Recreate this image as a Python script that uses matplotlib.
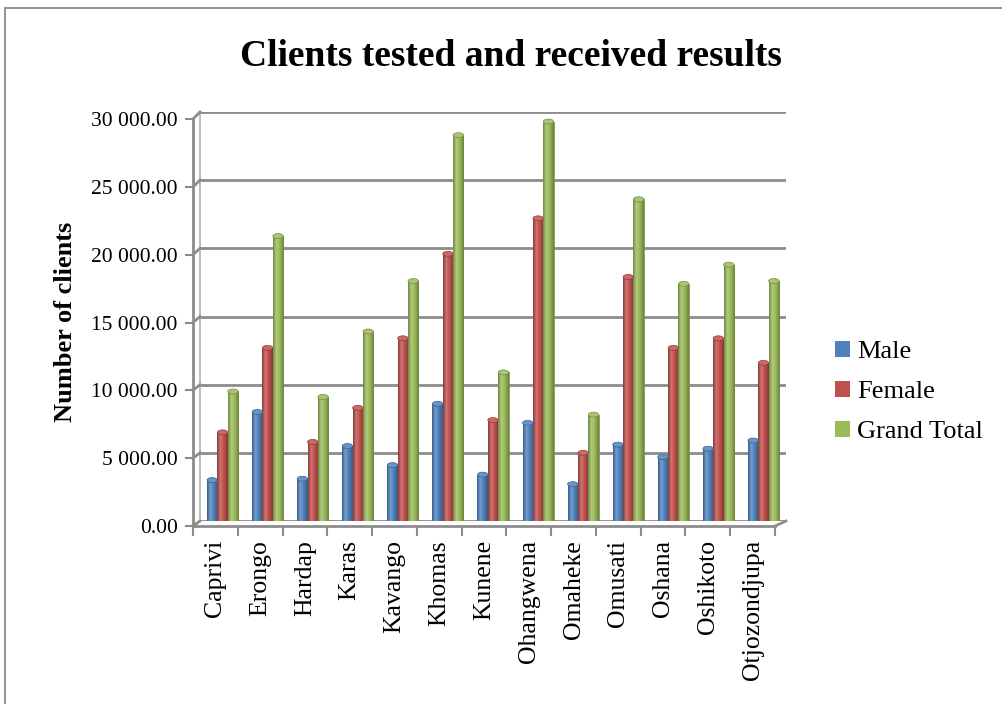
import numpy as np
import matplotlib
matplotlib.use("Agg")
import matplotlib.pyplot as plt
from matplotlib.colors import LinearSegmentedColormap, to_rgb
from matplotlib.patches import Ellipse, Rectangle
from matplotlib.lines import Line2D
from matplotlib.ticker import FuncFormatter, MultipleLocator, FixedLocator

regions = ["Caprivi", "Erongo", "Hardap", "Karas", "Kavango", "Khomas", "Kunene",
           "Ohangwena", "Omaheke", "Omusati", "Oshana", "Oshikoto", "Otjozondjupa"]
male = [3000, 8000, 3100, 5500, 4100, 8600, 3400, 7200, 2700, 5600, 4700, 5300, 5900]
female = [6500, 12700, 5800, 8300, 13400, 19600, 7400, 22200, 5000, 17900, 12700, 13400, 11600]
grand_total = [9500, 20900, 9100, 13900, 17600, 28300, 10900, 29300, 7800, 23600, 17400, 18800, 17600]
series_names = ["Male", "Female", "Grand Total"]
series_colors = ["#4F81BD", "#C0504D", "#9BBB59"]

plt.rcParams['font.family'] = ['Liberation Serif', 'DejaVu Serif']

W, H = 1003, 704
fig = plt.figure(figsize=(W / 100, H / 100), dpi=100)

def fr(x0, y0, x1, y1):
    return [x0 / W, 1 - y1 / H, (x1 - x0) / W, (y1 - y0) / H]

grid_c = "#8C8C8C"
ymax = 30000

# back wall axes (bars + gridlines)
ax = fig.add_axes(fr(200, 112, 786, 521))
ax.set_xlim(-0.5, len(regions) - 0.5)
ax.set_ylim(0, ymax)
for s in ax.spines.values():
    s.set_visible(False)
ax.spines['left'].set_visible(True)
ax.spines['left'].set_color("#B0B0B0")
ax.spines['left'].set_linewidth(1.2)
ax.set_xticks([])
ax.set_yticks([])
ax.patch.set_alpha(0)
for v in range(0, ymax + 1, 5000):
    ax.axhline(v, color=grid_c, lw=2.0, zorder=1)

x = np.arange(len(regions))
bw = 0.23
offsets = [-bw, 0, bw]
data = [male, female, grand_total]

def shade(c, f):
    r, g, b = to_rgb(c)
    if f < 1:
        return (r * f, g * f, b * f)
    return (r + (1 - r) * (f - 1), g + (1 - g) * (f - 1), b + (1 - b) * (f - 1))

px_to_data = ymax / (521 - 112)
grad = np.linspace(0, 1, 64).reshape(1, -1)
handles = []
for vals, off, col, name in zip(data, offsets, series_colors, series_names):
    cmap = LinearSegmentedColormap.from_list(
        "c", [(0, shade(col, 0.72)), (0.3, shade(col, 1.22)), (0.6, to_rgb(col)), (1, shade(col, 0.7))])
    bars = ax.bar(x + off, vals, width=bw, color=col, edgecolor=shade(col, 0.75),
                  linewidth=0.5, zorder=3)
    for rect in bars:
        x0, w, h = rect.get_x(), rect.get_width(), rect.get_height()
        im = ax.imshow(grad, extent=[x0, x0 + w, 0, h], aspect='auto', cmap=cmap,
                       zorder=3.5, interpolation='bilinear')
        im.set_clip_path(rect)
        ax.add_patch(Ellipse((x0 + w / 2, h), w, 5 * px_to_data, facecolor=shade(col, 1.15),
                             edgecolor=shade(col, 0.75), lw=0.5, zorder=4))
    handles.append(Rectangle((0, 0), 1, 1, facecolor=col, edgecolor='none'))
ax.set_xlim(-0.5, len(regions) - 0.5)
ax.set_ylim(0, ymax)

# front axes (axis lines, ticks, labels)
ax2 = fig.add_axes(fr(193, 119, 775, 526))
ax2.patch.set_alpha(0)
ax2.set_xlim(-0.5, len(regions) - 0.5)
ax2.set_ylim(0, ymax)
ax2.spines['top'].set_visible(False)
ax2.spines['right'].set_visible(False)
for sp in ('left', 'bottom'):
    ax2.spines[sp].set_color(grid_c)
    ax2.spines[sp].set_linewidth(2.0)
ax2.yaxis.set_major_locator(MultipleLocator(5000))
ax2.yaxis.set_major_formatter(FuncFormatter(lambda v, p: f"{v:,.2f}".replace(",", " ")))
ax2.tick_params(axis='y', direction='out', length=6, width=1.5, color=grid_c,
                labelsize=15.5, pad=5)
ax2.set_xticks(x)
ax2.set_xticklabels(regions, rotation=90, fontsize=18.5)
ax2.xaxis.set_minor_locator(FixedLocator(np.arange(-0.5, len(regions), 1.0)))
ax2.tick_params(axis='x', which='major', length=0, pad=10)
ax2.tick_params(axis='x', which='minor', length=7, width=1.5, color=grid_c)

# 3D depth connectors
fig.canvas.draw()
for v in range(0, ymax + 1, 5000):
    xb, yb = ax.transData.transform((-0.5, v))
    xf, yf = ax2.transData.transform((-0.5, v))
    fig.add_artist(Line2D([xf, xb], [yf, yb], transform=None, color=grid_c, lw=2.0))
xb, yb = ax.transData.transform((len(regions) - 0.5, 0))
xf, yf = ax2.transData.transform((len(regions) - 0.5, 0))
fig.add_artist(Line2D([xf, xb], [yf, yb], transform=None, color=grid_c, lw=2.0))

# title, y label, legend
fig.text(511 / W, 1 - 56 / H, "Clients tested and received results", ha='center', va='center',
         fontsize=27, fontweight='bold')
fig.text(66 / W, 1 - 322 / H, "Number of clients", ha='center', va='center', rotation=90,
         fontsize=19, fontweight='bold')
fig.legend(handles, series_names, loc='center left', bbox_to_anchor=(835 / W, 1 - 392 / H),
           frameon=False, fontsize=19, handlelength=0.55, handleheight=0.55,
           handletextpad=0.3, labelspacing=0.68, borderpad=0, borderaxespad=0)

# chart frame
fig.add_artist(Rectangle((5 / W, -0.1), 1.2, 1.1 - 8 / H, transform=fig.transFigure,
                         fill=False, edgecolor="#8A8A8A", lw=1.3))

fig.savefig("out.png", dpi=100)
